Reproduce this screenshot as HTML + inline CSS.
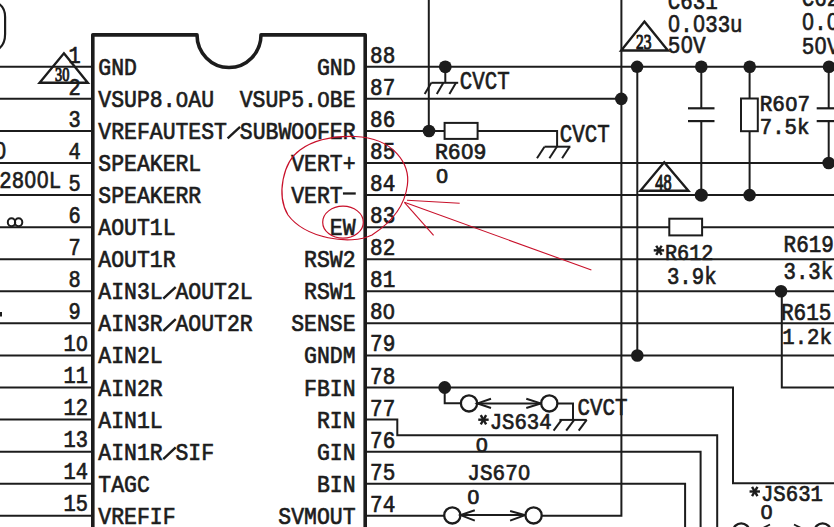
<!DOCTYPE html>
<html><head><meta charset="utf-8"><style>
html,body{margin:0;padding:0;background:#fff;width:834px;height:527px;overflow:hidden}
svg{display:block}

</style></head><body>
<svg width="834" height="527" viewBox="0 0 834 527">
<rect width="834" height="527" fill="#fff"/>
<path d="M92.8,530 L92.8,34.85 L197,34.85 A32,32.7 0 0 0 261,34.85 L365.2,34.85 L365.2,530" fill="none" stroke="#1c1c1c" stroke-width="3.6" stroke-linejoin="round"/>
<line x1="0.00" y1="66.80" x2="92.80" y2="66.80" stroke="#1c1c1c" stroke-width="2.0"/>
<line x1="0.00" y1="98.87" x2="92.80" y2="98.87" stroke="#1c1c1c" stroke-width="2.0"/>
<line x1="0.00" y1="130.94" x2="92.80" y2="130.94" stroke="#1c1c1c" stroke-width="2.0"/>
<line x1="0.00" y1="163.01" x2="92.80" y2="163.01" stroke="#1c1c1c" stroke-width="2.0"/>
<line x1="0.00" y1="195.08" x2="92.80" y2="195.08" stroke="#1c1c1c" stroke-width="2.0"/>
<line x1="0.00" y1="227.15" x2="92.80" y2="227.15" stroke="#1c1c1c" stroke-width="2.0"/>
<line x1="0.00" y1="259.22" x2="92.80" y2="259.22" stroke="#1c1c1c" stroke-width="2.0"/>
<line x1="0.00" y1="291.29" x2="92.80" y2="291.29" stroke="#1c1c1c" stroke-width="2.0"/>
<line x1="0.00" y1="323.36" x2="92.80" y2="323.36" stroke="#1c1c1c" stroke-width="2.0"/>
<line x1="0.00" y1="355.43" x2="92.80" y2="355.43" stroke="#1c1c1c" stroke-width="2.0"/>
<line x1="0.00" y1="387.50" x2="92.80" y2="387.50" stroke="#1c1c1c" stroke-width="2.0"/>
<line x1="0.00" y1="419.57" x2="92.80" y2="419.57" stroke="#1c1c1c" stroke-width="2.0"/>
<line x1="0.00" y1="451.64" x2="92.80" y2="451.64" stroke="#1c1c1c" stroke-width="2.0"/>
<line x1="0.00" y1="483.71" x2="92.80" y2="483.71" stroke="#1c1c1c" stroke-width="2.0"/>
<line x1="0.00" y1="515.78" x2="92.80" y2="515.78" stroke="#1c1c1c" stroke-width="2.0"/>
<text transform="translate(98.31,74.80) scale(0.8848,1)" font-family="Liberation Mono" font-size="24.24" font-weight="normal" fill="#1c1c1c" stroke="#1c1c1c" stroke-width="0.7" xml:space="preserve">GND</text>
<text transform="translate(98.31,106.87) scale(0.8848,1)" font-family="Liberation Mono" font-size="24.24" font-weight="normal" fill="#1c1c1c" stroke="#1c1c1c" stroke-width="0.7" xml:space="preserve">VSUP8. AU</text>
<text transform="translate(181.97,106.87) scale(0.9518,1)" font-family="Liberation Sans" font-size="22.54" text-anchor="middle" fill="#1c1c1c" stroke="#1c1c1c" stroke-width="0.7">0</text>
<text transform="translate(98.31,138.94) scale(0.8848,1)" font-family="Liberation Mono" font-size="24.24" font-weight="normal" fill="#1c1c1c" stroke="#1c1c1c" stroke-width="0.7" xml:space="preserve">VREFAUTEST SUBWOOFER</text>
<line x1="227.61" y1="138.34" x2="240.08" y2="126.78" stroke="#1c1c1c" stroke-width="2.4"/>
<text transform="translate(98.31,171.01) scale(0.8848,1)" font-family="Liberation Mono" font-size="24.24" font-weight="normal" fill="#1c1c1c" stroke="#1c1c1c" stroke-width="0.7" xml:space="preserve">SPEAKERL</text>
<text transform="translate(98.31,203.08) scale(0.8848,1)" font-family="Liberation Mono" font-size="24.24" font-weight="normal" fill="#1c1c1c" stroke="#1c1c1c" stroke-width="0.7" xml:space="preserve">SPEAKERR</text>
<text transform="translate(98.31,235.15) scale(0.8848,1)" font-family="Liberation Mono" font-size="24.24" font-weight="normal" fill="#1c1c1c" stroke="#1c1c1c" stroke-width="0.7" xml:space="preserve">AOUT1L</text>
<text transform="translate(98.31,267.22) scale(0.8848,1)" font-family="Liberation Mono" font-size="24.24" font-weight="normal" fill="#1c1c1c" stroke="#1c1c1c" stroke-width="0.7" xml:space="preserve">AOUT1R</text>
<text transform="translate(98.31,299.29) scale(0.8848,1)" font-family="Liberation Mono" font-size="24.24" font-weight="normal" fill="#1c1c1c" stroke="#1c1c1c" stroke-width="0.7" xml:space="preserve">AIN3L AOUT2L</text>
<line x1="163.26" y1="298.69" x2="175.73" y2="287.13" stroke="#1c1c1c" stroke-width="2.4"/>
<text transform="translate(98.31,331.36) scale(0.8848,1)" font-family="Liberation Mono" font-size="24.24" font-weight="normal" fill="#1c1c1c" stroke="#1c1c1c" stroke-width="0.7" xml:space="preserve">AIN3R AOUT2R</text>
<line x1="163.26" y1="330.76" x2="175.73" y2="319.20" stroke="#1c1c1c" stroke-width="2.4"/>
<text transform="translate(98.31,363.43) scale(0.8848,1)" font-family="Liberation Mono" font-size="24.24" font-weight="normal" fill="#1c1c1c" stroke="#1c1c1c" stroke-width="0.7" xml:space="preserve">AIN2L</text>
<text transform="translate(98.31,395.50) scale(0.8848,1)" font-family="Liberation Mono" font-size="24.24" font-weight="normal" fill="#1c1c1c" stroke="#1c1c1c" stroke-width="0.7" xml:space="preserve">AIN2R</text>
<text transform="translate(98.31,427.57) scale(0.8848,1)" font-family="Liberation Mono" font-size="24.24" font-weight="normal" fill="#1c1c1c" stroke="#1c1c1c" stroke-width="0.7" xml:space="preserve">AIN1L</text>
<text transform="translate(98.31,459.64) scale(0.8848,1)" font-family="Liberation Mono" font-size="24.24" font-weight="normal" fill="#1c1c1c" stroke="#1c1c1c" stroke-width="0.7" xml:space="preserve">AIN1R SIF</text>
<line x1="163.26" y1="459.04" x2="175.73" y2="447.48" stroke="#1c1c1c" stroke-width="2.4"/>
<text transform="translate(98.31,491.71) scale(0.8848,1)" font-family="Liberation Mono" font-size="24.24" font-weight="normal" fill="#1c1c1c" stroke="#1c1c1c" stroke-width="0.7" xml:space="preserve">TAGC</text>
<text transform="translate(98.31,523.78) scale(0.8848,1)" font-family="Liberation Mono" font-size="24.24" font-weight="normal" fill="#1c1c1c" stroke="#1c1c1c" stroke-width="0.7" xml:space="preserve">VREFIF</text>
<text transform="translate(316.98,74.80) scale(0.8848,1)" font-family="Liberation Mono" font-size="24.24" font-weight="normal" fill="#1c1c1c" stroke="#1c1c1c" stroke-width="0.7" xml:space="preserve">GND</text>
<text transform="translate(239.76,106.87) scale(0.8848,1)" font-family="Liberation Mono" font-size="24.24" font-weight="normal" fill="#1c1c1c" stroke="#1c1c1c" stroke-width="0.7" xml:space="preserve">VSUP5. BE</text>
<text transform="translate(323.41,106.87) scale(0.9518,1)" font-family="Liberation Sans" font-size="22.54" text-anchor="middle" fill="#1c1c1c" stroke="#1c1c1c" stroke-width="0.7">0</text>
<text transform="translate(291.24,171.01) scale(0.8848,1)" font-family="Liberation Mono" font-size="24.24" font-weight="normal" fill="#1c1c1c" stroke="#1c1c1c" stroke-width="0.7" xml:space="preserve">VERT+</text>
<text transform="translate(291.24,203.08) scale(0.8848,1)" font-family="Liberation Mono" font-size="24.24" font-weight="normal" fill="#1c1c1c" stroke="#1c1c1c" stroke-width="0.7" xml:space="preserve">VERT </text>
<line x1="342.95" y1="193.48" x2="355.75" y2="193.48" stroke="#1c1c1c" stroke-width="2.3"/>
<text transform="translate(329.85,235.15) scale(0.8848,1)" font-family="Liberation Mono" font-size="24.24" font-weight="normal" fill="#1c1c1c" stroke="#1c1c1c" stroke-width="0.7" xml:space="preserve">EW</text>
<text transform="translate(304.11,267.22) scale(0.8848,1)" font-family="Liberation Mono" font-size="24.24" font-weight="normal" fill="#1c1c1c" stroke="#1c1c1c" stroke-width="0.7" xml:space="preserve">RSW2</text>
<text transform="translate(304.11,299.29) scale(0.8848,1)" font-family="Liberation Mono" font-size="24.24" font-weight="normal" fill="#1c1c1c" stroke="#1c1c1c" stroke-width="0.7" xml:space="preserve">RSW1</text>
<text transform="translate(291.24,331.36) scale(0.8848,1)" font-family="Liberation Mono" font-size="24.24" font-weight="normal" fill="#1c1c1c" stroke="#1c1c1c" stroke-width="0.7" xml:space="preserve">SENSE</text>
<text transform="translate(304.11,363.43) scale(0.8848,1)" font-family="Liberation Mono" font-size="24.24" font-weight="normal" fill="#1c1c1c" stroke="#1c1c1c" stroke-width="0.7" xml:space="preserve">GNDM</text>
<text transform="translate(304.11,395.50) scale(0.8848,1)" font-family="Liberation Mono" font-size="24.24" font-weight="normal" fill="#1c1c1c" stroke="#1c1c1c" stroke-width="0.7" xml:space="preserve">FBIN</text>
<text transform="translate(316.98,427.57) scale(0.8848,1)" font-family="Liberation Mono" font-size="24.24" font-weight="normal" fill="#1c1c1c" stroke="#1c1c1c" stroke-width="0.7" xml:space="preserve">RIN</text>
<text transform="translate(316.98,459.64) scale(0.8848,1)" font-family="Liberation Mono" font-size="24.24" font-weight="normal" fill="#1c1c1c" stroke="#1c1c1c" stroke-width="0.7" xml:space="preserve">GIN</text>
<text transform="translate(316.98,491.71) scale(0.8848,1)" font-family="Liberation Mono" font-size="24.24" font-weight="normal" fill="#1c1c1c" stroke="#1c1c1c" stroke-width="0.7" xml:space="preserve">BIN</text>
<text transform="translate(278.37,523.78) scale(0.8848,1)" font-family="Liberation Mono" font-size="24.24" font-weight="normal" fill="#1c1c1c" stroke="#1c1c1c" stroke-width="0.7" xml:space="preserve">SVMOUT</text>
<text transform="translate(68.38,62.50) scale(0.8642,1)" font-family="Liberation Mono" font-size="23.53" font-weight="normal" fill="#1c1c1c" stroke="#1c1c1c" stroke-width="0.7" xml:space="preserve">1</text>
<text transform="translate(68.38,94.57) scale(0.8642,1)" font-family="Liberation Mono" font-size="23.53" font-weight="normal" fill="#1c1c1c" stroke="#1c1c1c" stroke-width="0.7" xml:space="preserve">2</text>
<text transform="translate(68.38,126.64) scale(0.8642,1)" font-family="Liberation Mono" font-size="23.53" font-weight="normal" fill="#1c1c1c" stroke="#1c1c1c" stroke-width="0.7" xml:space="preserve">3</text>
<text transform="translate(68.38,158.71) scale(0.8642,1)" font-family="Liberation Mono" font-size="23.53" font-weight="normal" fill="#1c1c1c" stroke="#1c1c1c" stroke-width="0.7" xml:space="preserve">4</text>
<text transform="translate(68.38,190.78) scale(0.8642,1)" font-family="Liberation Mono" font-size="23.53" font-weight="normal" fill="#1c1c1c" stroke="#1c1c1c" stroke-width="0.7" xml:space="preserve">5</text>
<text transform="translate(68.38,222.85) scale(0.8642,1)" font-family="Liberation Mono" font-size="23.53" font-weight="normal" fill="#1c1c1c" stroke="#1c1c1c" stroke-width="0.7" xml:space="preserve">6</text>
<text transform="translate(68.38,254.92) scale(0.8642,1)" font-family="Liberation Mono" font-size="23.53" font-weight="normal" fill="#1c1c1c" stroke="#1c1c1c" stroke-width="0.7" xml:space="preserve">7</text>
<text transform="translate(68.38,286.99) scale(0.8642,1)" font-family="Liberation Mono" font-size="23.53" font-weight="normal" fill="#1c1c1c" stroke="#1c1c1c" stroke-width="0.7" xml:space="preserve">8</text>
<text transform="translate(68.38,319.06) scale(0.8642,1)" font-family="Liberation Mono" font-size="23.53" font-weight="normal" fill="#1c1c1c" stroke="#1c1c1c" stroke-width="0.7" xml:space="preserve">9</text>
<text transform="translate(63.48,351.13) scale(0.8642,1)" font-family="Liberation Mono" font-size="23.53" font-weight="normal" fill="#1c1c1c" stroke="#1c1c1c" stroke-width="0.7" xml:space="preserve">1 </text>
<text transform="translate(81.78,351.13) scale(0.9023,1)" font-family="Liberation Sans" font-size="22.54" text-anchor="middle" fill="#1c1c1c" stroke="#1c1c1c" stroke-width="0.7">0</text>
<text transform="translate(63.48,383.20) scale(0.8642,1)" font-family="Liberation Mono" font-size="23.53" font-weight="normal" fill="#1c1c1c" stroke="#1c1c1c" stroke-width="0.7" xml:space="preserve">11</text>
<text transform="translate(63.48,415.27) scale(0.8642,1)" font-family="Liberation Mono" font-size="23.53" font-weight="normal" fill="#1c1c1c" stroke="#1c1c1c" stroke-width="0.7" xml:space="preserve">12</text>
<text transform="translate(63.48,447.34) scale(0.8642,1)" font-family="Liberation Mono" font-size="23.53" font-weight="normal" fill="#1c1c1c" stroke="#1c1c1c" stroke-width="0.7" xml:space="preserve">13</text>
<text transform="translate(63.48,479.41) scale(0.8642,1)" font-family="Liberation Mono" font-size="23.53" font-weight="normal" fill="#1c1c1c" stroke="#1c1c1c" stroke-width="0.7" xml:space="preserve">14</text>
<text transform="translate(63.48,511.48) scale(0.8642,1)" font-family="Liberation Mono" font-size="23.53" font-weight="normal" fill="#1c1c1c" stroke="#1c1c1c" stroke-width="0.7" xml:space="preserve">15</text>
<text transform="translate(370.04,62.80) scale(0.8761,1)" font-family="Liberation Mono" font-size="23.97" font-weight="normal" fill="#1c1c1c" stroke="#1c1c1c" stroke-width="0.7" xml:space="preserve">88</text>
<text transform="translate(370.04,94.87) scale(0.8761,1)" font-family="Liberation Mono" font-size="23.97" font-weight="normal" fill="#1c1c1c" stroke="#1c1c1c" stroke-width="0.7" xml:space="preserve">87</text>
<text transform="translate(370.04,126.94) scale(0.8761,1)" font-family="Liberation Mono" font-size="23.97" font-weight="normal" fill="#1c1c1c" stroke="#1c1c1c" stroke-width="0.7" xml:space="preserve">86</text>
<text transform="translate(370.04,159.01) scale(0.8761,1)" font-family="Liberation Mono" font-size="23.97" font-weight="normal" fill="#1c1c1c" stroke="#1c1c1c" stroke-width="0.7" xml:space="preserve">85</text>
<text transform="translate(370.04,191.08) scale(0.8761,1)" font-family="Liberation Mono" font-size="23.97" font-weight="normal" fill="#1c1c1c" stroke="#1c1c1c" stroke-width="0.7" xml:space="preserve">84</text>
<text transform="translate(370.04,223.15) scale(0.8761,1)" font-family="Liberation Mono" font-size="23.97" font-weight="normal" fill="#1c1c1c" stroke="#1c1c1c" stroke-width="0.7" xml:space="preserve">83</text>
<text transform="translate(370.04,255.22) scale(0.8761,1)" font-family="Liberation Mono" font-size="23.97" font-weight="normal" fill="#1c1c1c" stroke="#1c1c1c" stroke-width="0.7" xml:space="preserve">82</text>
<text transform="translate(370.04,287.29) scale(0.8761,1)" font-family="Liberation Mono" font-size="23.97" font-weight="normal" fill="#1c1c1c" stroke="#1c1c1c" stroke-width="0.7" xml:space="preserve">81</text>
<text transform="translate(370.04,319.36) scale(0.8761,1)" font-family="Liberation Mono" font-size="23.97" font-weight="normal" fill="#1c1c1c" stroke="#1c1c1c" stroke-width="0.7" xml:space="preserve">8 </text>
<text transform="translate(388.94,319.36) scale(0.9147,1)" font-family="Liberation Sans" font-size="22.96" text-anchor="middle" fill="#1c1c1c" stroke="#1c1c1c" stroke-width="0.7">0</text>
<text transform="translate(370.04,351.43) scale(0.8761,1)" font-family="Liberation Mono" font-size="23.97" font-weight="normal" fill="#1c1c1c" stroke="#1c1c1c" stroke-width="0.7" xml:space="preserve">79</text>
<text transform="translate(370.04,383.50) scale(0.8761,1)" font-family="Liberation Mono" font-size="23.97" font-weight="normal" fill="#1c1c1c" stroke="#1c1c1c" stroke-width="0.7" xml:space="preserve">78</text>
<text transform="translate(370.04,415.57) scale(0.8761,1)" font-family="Liberation Mono" font-size="23.97" font-weight="normal" fill="#1c1c1c" stroke="#1c1c1c" stroke-width="0.7" xml:space="preserve">77</text>
<text transform="translate(370.04,447.64) scale(0.8761,1)" font-family="Liberation Mono" font-size="23.97" font-weight="normal" fill="#1c1c1c" stroke="#1c1c1c" stroke-width="0.7" xml:space="preserve">76</text>
<text transform="translate(370.04,479.71) scale(0.8761,1)" font-family="Liberation Mono" font-size="23.97" font-weight="normal" fill="#1c1c1c" stroke="#1c1c1c" stroke-width="0.7" xml:space="preserve">75</text>
<text transform="translate(370.04,511.78) scale(0.8761,1)" font-family="Liberation Mono" font-size="23.97" font-weight="normal" fill="#1c1c1c" stroke="#1c1c1c" stroke-width="0.7" xml:space="preserve">74</text>
<line x1="365.20" y1="66.80" x2="834.00" y2="66.80" stroke="#1c1c1c" stroke-width="2.0"/>
<line x1="365.20" y1="98.87" x2="621.30" y2="98.87" stroke="#1c1c1c" stroke-width="2.0"/>
<line x1="365.20" y1="130.94" x2="444.60" y2="130.94" stroke="#1c1c1c" stroke-width="2.0"/>
<polyline points="477.60,130.94 557.10,130.94 557.10,146.70" fill="none" stroke="#1c1c1c" stroke-width="2.0" stroke-linejoin="miter"/>
<line x1="365.20" y1="163.01" x2="828.70" y2="163.01" stroke="#1c1c1c" stroke-width="2.0"/>
<line x1="365.20" y1="195.08" x2="834.00" y2="195.08" stroke="#1c1c1c" stroke-width="2.0"/>
<line x1="365.20" y1="227.15" x2="669.30" y2="227.15" stroke="#1c1c1c" stroke-width="2.0"/>
<line x1="702.10" y1="227.15" x2="834.00" y2="227.15" stroke="#1c1c1c" stroke-width="2.0"/>
<line x1="365.20" y1="259.22" x2="834.00" y2="259.22" stroke="#1c1c1c" stroke-width="2.0"/>
<line x1="365.20" y1="291.29" x2="834.00" y2="291.29" stroke="#1c1c1c" stroke-width="2.0"/>
<line x1="365.20" y1="323.36" x2="834.00" y2="323.36" stroke="#1c1c1c" stroke-width="2.0"/>
<line x1="365.20" y1="355.43" x2="834.00" y2="355.43" stroke="#1c1c1c" stroke-width="2.0"/>
<polyline points="365.20,419.57 397.30,419.57 397.30,435.30 717.20,435.30 717.20,530.00" fill="none" stroke="#1c1c1c" stroke-width="2.0" stroke-linejoin="miter"/>
<polyline points="365.20,451.64 700.60,451.64 700.60,530.00" fill="none" stroke="#1c1c1c" stroke-width="2.0" stroke-linejoin="miter"/>
<polyline points="365.20,483.71 685.10,483.71 685.10,530.00" fill="none" stroke="#1c1c1c" stroke-width="2.0" stroke-linejoin="miter"/>
<line x1="365.20" y1="515.78" x2="444.10" y2="515.78" stroke="#1c1c1c" stroke-width="2.0"/>
<polyline points="542.00,515.78 621.40,515.78 621.40,-5.00" fill="none" stroke="#1c1c1c" stroke-width="2.0" stroke-linejoin="miter"/>
<line x1="428.80" y1="-5.00" x2="428.80" y2="130.94" stroke="#1c1c1c" stroke-width="2.0"/>
<circle cx="429.00" cy="130.94" r="6.3" fill="#1c1c1c"/>
<circle cx="445.30" cy="66.80" r="6.4" fill="#1c1c1c"/>
<line x1="445.30" y1="66.80" x2="445.30" y2="82.80" stroke="#1c1c1c" stroke-width="2.0"/>
<line x1="431.30" y1="82.80" x2="458.20" y2="82.80" stroke="#1c1c1c" stroke-width="2.0"/>
<line x1="431.30" y1="82.80" x2="424.70" y2="93.90" stroke="#1c1c1c" stroke-width="2.0"/>
<line x1="443.40" y1="82.80" x2="436.80" y2="93.90" stroke="#1c1c1c" stroke-width="2.0"/>
<line x1="456.00" y1="82.80" x2="449.40" y2="93.90" stroke="#1c1c1c" stroke-width="2.0"/>
<text transform="translate(459.75,89.10) scale(0.8185,1)" font-family="Liberation Mono" font-size="25.45" font-weight="normal" fill="#1c1c1c" stroke="#1c1c1c" stroke-width="0.7" xml:space="preserve">CVCT</text>
<rect x="444.6" y="122.9" width="33" height="16" fill="#fff" stroke="#1c1c1c" stroke-width="2"/>
<text transform="translate(434.91,159.40) scale(0.9618,1)" font-family="Liberation Mono" font-size="22.35" font-weight="normal" fill="#1c1c1c" stroke="#1c1c1c" stroke-width="0.7" xml:space="preserve">R6 9</text>
<text transform="translate(467.16,159.40) scale(1.0043,1)" font-family="Liberation Sans" font-size="21.41" text-anchor="middle" fill="#1c1c1c" stroke="#1c1c1c" stroke-width="0.7">0</text>
<text transform="translate(435.74,183.00) scale(0.9848,1)" font-family="Liberation Mono" font-size="21.32" font-weight="normal" fill="#1c1c1c" stroke="#1c1c1c" stroke-width="0.7" xml:space="preserve"> </text>
<text transform="translate(442.04,183.00) scale(1.0283,1)" font-family="Liberation Sans" font-size="20.42" text-anchor="middle" fill="#1c1c1c" stroke="#1c1c1c" stroke-width="0.7">0</text>
<line x1="544.50" y1="146.70" x2="570.40" y2="146.70" stroke="#1c1c1c" stroke-width="2.0"/>
<line x1="544.50" y1="146.70" x2="537.00" y2="158.20" stroke="#1c1c1c" stroke-width="2.0"/>
<line x1="556.90" y1="146.70" x2="549.40" y2="158.20" stroke="#1c1c1c" stroke-width="2.0"/>
<line x1="569.60" y1="146.70" x2="562.10" y2="158.20" stroke="#1c1c1c" stroke-width="2.0"/>
<text transform="translate(559.75,141.70) scale(0.8283,1)" font-family="Liberation Mono" font-size="25.15" font-weight="normal" fill="#1c1c1c" stroke="#1c1c1c" stroke-width="0.7" xml:space="preserve">CVCT</text>
<circle cx="621.30" cy="98.87" r="6.3" fill="#1c1c1c"/>
<circle cx="637.10" cy="66.80" r="6.2" fill="#1c1c1c"/>
<line x1="637.30" y1="66.80" x2="637.30" y2="355.43" stroke="#1c1c1c" stroke-width="2.0"/>
<circle cx="637.30" cy="355.43" r="6.3" fill="#1c1c1c"/>
<polygon points="63.90,53.30 87.80,82.80 39.60,82.80" fill="none" stroke="#1c1c1c" stroke-width="2.4" stroke-linejoin="miter"/>
<polygon points="644.40,21.60 667.90,50.50 621.20,50.50" fill="none" stroke="#1c1c1c" stroke-width="2.4" stroke-linejoin="miter"/>
<polygon points="664.20,162.30 688.40,190.80 640.40,190.80" fill="none" stroke="#1c1c1c" stroke-width="2.4" stroke-linejoin="miter"/>
<circle cx="701.30" cy="66.80" r="6.3" fill="#1c1c1c"/>
<line x1="701.30" y1="66.80" x2="701.30" y2="108.30" stroke="#1c1c1c" stroke-width="2.0"/>
<line x1="688.00" y1="108.30" x2="714.50" y2="108.30" stroke="#1c1c1c" stroke-width="2.2"/>
<line x1="688.00" y1="121.10" x2="714.50" y2="121.10" stroke="#1c1c1c" stroke-width="2.2"/>
<line x1="701.30" y1="121.10" x2="701.30" y2="195.08" stroke="#1c1c1c" stroke-width="2.0"/>
<circle cx="701.30" cy="195.08" r="6.6" fill="#1c1c1c"/>
<circle cx="749.70" cy="66.80" r="6.3" fill="#1c1c1c"/>
<line x1="749.60" y1="66.80" x2="749.60" y2="98.50" stroke="#1c1c1c" stroke-width="2.0"/>
<rect x="741" y="98.5" width="16.8" height="32.7" fill="#fff" stroke="#1c1c1c" stroke-width="2"/>
<line x1="749.60" y1="131.20" x2="749.60" y2="195.08" stroke="#1c1c1c" stroke-width="2.0"/>
<circle cx="749.60" cy="195.08" r="6.3" fill="#1c1c1c"/>
<circle cx="829.00" cy="66.80" r="6.3" fill="#1c1c1c"/>
<line x1="828.70" y1="66.80" x2="828.70" y2="108.30" stroke="#1c1c1c" stroke-width="2.0"/>
<line x1="816.70" y1="108.30" x2="845.00" y2="108.30" stroke="#1c1c1c" stroke-width="2.2"/>
<line x1="816.70" y1="121.10" x2="845.00" y2="121.10" stroke="#1c1c1c" stroke-width="2.2"/>
<line x1="828.70" y1="121.10" x2="828.70" y2="163.01" stroke="#1c1c1c" stroke-width="2.0"/>
<circle cx="828.70" cy="163.01" r="6.3" fill="#1c1c1c"/>
<rect x="669.3" y="218.7" width="32.8" height="16.7" fill="#fff" stroke="#1c1c1c" stroke-width="2"/>
<circle cx="781.00" cy="291.29" r="6.3" fill="#1c1c1c"/>
<polyline points="781.80,291.29 781.80,387.40 839.00,387.40" fill="none" stroke="#1c1c1c" stroke-width="2.0" stroke-linejoin="miter"/>
<polyline points="365.20,387.50 733.00,387.50 733.00,483.20 839.00,483.20" fill="none" stroke="#1c1c1c" stroke-width="2.0" stroke-linejoin="miter"/>
<circle cx="444.70" cy="387.50" r="6.4" fill="#1c1c1c"/>
<polyline points="444.70,387.50 444.70,403.30 460.80,403.30" fill="none" stroke="#1c1c1c" stroke-width="2.0" stroke-linejoin="miter"/>
<circle cx="469.00" cy="403.40" r="8.1" fill="#fff" stroke="#1c1c1c" stroke-width="2.3"/>
<line x1="477.20" y1="403.40" x2="541.20" y2="403.40" stroke="#1c1c1c" stroke-width="2.0"/>
<polyline points="491.00,398.70 477.50,403.40 491.00,408.00" fill="none" stroke="#1c1c1c" stroke-width="2.0" stroke-linejoin="miter"/>
<polyline points="526.30,398.70 540.80,403.40 526.30,408.00" fill="none" stroke="#1c1c1c" stroke-width="2.0" stroke-linejoin="miter"/>
<circle cx="549.30" cy="403.40" r="8.1" fill="#fff" stroke="#1c1c1c" stroke-width="2.3"/>
<polyline points="557.40,403.40 573.00,403.40 573.00,419.90" fill="none" stroke="#1c1c1c" stroke-width="2.0" stroke-linejoin="miter"/>
<line x1="559.40" y1="419.90" x2="586.70" y2="419.90" stroke="#1c1c1c" stroke-width="2.0"/>
<line x1="561.60" y1="419.90" x2="553.60" y2="430.60" stroke="#1c1c1c" stroke-width="2.0"/>
<line x1="574.20" y1="419.90" x2="566.20" y2="430.60" stroke="#1c1c1c" stroke-width="2.0"/>
<line x1="586.70" y1="419.90" x2="578.70" y2="430.60" stroke="#1c1c1c" stroke-width="2.0"/>
<text transform="translate(577.45,415.30) scale(0.8594,1)" font-family="Liberation Mono" font-size="24.24" font-weight="normal" fill="#1c1c1c" stroke="#1c1c1c" stroke-width="0.7" xml:space="preserve">CVCT</text>
<text transform="translate(477.26,429.00) scale(0.9067,1)" font-family="Liberation Mono" font-size="22.79" font-weight="normal" fill="#1c1c1c" stroke="#1c1c1c" stroke-width="0.7" xml:space="preserve"> JS634</text>
<g stroke="#1c1c1c" stroke-width="2.4"><line x1="478.26" y1="419.70" x2="488.66" y2="419.70"/><line x1="480.76" y1="415.10" x2="486.16" y2="424.30"/><line x1="486.16" y1="415.10" x2="480.76" y2="424.30"/></g>
<text transform="translate(475.54,451.60) scale(0.9848,1)" font-family="Liberation Mono" font-size="21.32" font-weight="normal" fill="#1c1c1c" stroke="#1c1c1c" stroke-width="0.7" xml:space="preserve"> </text>
<text transform="translate(481.84,451.60) scale(1.0283,1)" font-family="Liberation Sans" font-size="20.42" text-anchor="middle" fill="#1c1c1c" stroke="#1c1c1c" stroke-width="0.7">0</text>
<text transform="translate(467.34,480.40) scale(0.9154,1)" font-family="Liberation Mono" font-size="22.94" font-weight="normal" fill="#1c1c1c" stroke="#1c1c1c" stroke-width="0.7" xml:space="preserve">JS67 </text>
<text transform="translate(524.04,480.40) scale(0.9558,1)" font-family="Liberation Sans" font-size="21.97" text-anchor="middle" fill="#1c1c1c" stroke="#1c1c1c" stroke-width="0.7">0</text>
<text transform="translate(467.14,504.30) scale(1.0348,1)" font-family="Liberation Mono" font-size="20.29" font-weight="normal" fill="#1c1c1c" stroke="#1c1c1c" stroke-width="0.7" xml:space="preserve"> </text>
<text transform="translate(473.44,504.30) scale(1.0804,1)" font-family="Liberation Sans" font-size="19.44" text-anchor="middle" fill="#1c1c1c" stroke="#1c1c1c" stroke-width="0.7">0</text>
<circle cx="452.30" cy="515.40" r="8.1" fill="#fff" stroke="#1c1c1c" stroke-width="2.3"/>
<line x1="460.40" y1="515.10" x2="525.20" y2="515.10" stroke="#1c1c1c" stroke-width="2.0"/>
<polyline points="474.80,510.30 460.60,515.10 474.80,520.60" fill="none" stroke="#1c1c1c" stroke-width="2.0" stroke-linejoin="miter"/>
<polyline points="510.10,511.00 525.00,515.10 510.10,520.60" fill="none" stroke="#1c1c1c" stroke-width="2.0" stroke-linejoin="miter"/>
<circle cx="533.60" cy="515.40" r="8.1" fill="#fff" stroke="#1c1c1c" stroke-width="2.3"/>
<text transform="translate(748.56,500.50) scale(0.9369,1)" font-family="Liberation Mono" font-size="22.06" font-weight="normal" fill="#1c1c1c" stroke="#1c1c1c" stroke-width="0.7" xml:space="preserve"> JS631</text>
<g stroke="#1c1c1c" stroke-width="2.4"><line x1="749.56" y1="491.50" x2="759.96" y2="491.50"/><line x1="752.06" y1="486.90" x2="757.46" y2="496.10"/><line x1="757.46" y1="486.90" x2="752.06" y2="496.10"/></g>
<text transform="translate(760.34,519.40) scale(0.9848,1)" font-family="Liberation Mono" font-size="21.32" font-weight="normal" fill="#1c1c1c" stroke="#1c1c1c" stroke-width="0.7" xml:space="preserve"> </text>
<text transform="translate(766.64,519.40) scale(1.0283,1)" font-family="Liberation Sans" font-size="20.42" text-anchor="middle" fill="#1c1c1c" stroke="#1c1c1c" stroke-width="0.7">0</text>
<circle cx="741.20" cy="531.40" r="8.1" fill="#fff" stroke="#1c1c1c" stroke-width="2.3"/>
<circle cx="822.60" cy="531.40" r="8.1" fill="#fff" stroke="#1c1c1c" stroke-width="2.3"/>
<polyline points="770.00,524.50 762.00,528.50" fill="none" stroke="#1c1c1c" stroke-width="1.8" stroke-linejoin="miter"/>
<polyline points="794.00,524.50 802.00,528.50" fill="none" stroke="#1c1c1c" stroke-width="1.8" stroke-linejoin="miter"/>
<text transform="translate(667.85,8.50) scale(0.8691,1)" font-family="Liberation Mono" font-size="23.97" font-weight="normal" fill="#1c1c1c" stroke="#1c1c1c" stroke-width="0.7" xml:space="preserve">C631</text>
<text transform="translate(667.86,31.90) scale(0.8552,1)" font-family="Liberation Mono" font-size="24.26" font-weight="normal" fill="#1c1c1c" stroke="#1c1c1c" stroke-width="0.7" xml:space="preserve"> . 33u</text>
<text transform="translate(674.08,31.90) scale(0.8929,1)" font-family="Liberation Sans" font-size="23.24" text-anchor="middle" fill="#1c1c1c" stroke="#1c1c1c" stroke-width="0.7">0</text>
<text transform="translate(698.98,31.90) scale(0.8929,1)" font-family="Liberation Sans" font-size="23.24" text-anchor="middle" fill="#1c1c1c" stroke="#1c1c1c" stroke-width="0.7">0</text>
<text transform="translate(667.84,53.00) scale(0.8602,1)" font-family="Liberation Mono" font-size="24.41" font-weight="normal" fill="#1c1c1c" stroke="#1c1c1c" stroke-width="0.7" xml:space="preserve">5 V</text>
<text transform="translate(686.74,53.00) scale(0.8982,1)" font-family="Liberation Sans" font-size="23.38" text-anchor="middle" fill="#1c1c1c" stroke="#1c1c1c" stroke-width="0.7">0</text>
<text transform="translate(801.75,6.30) scale(0.8691,1)" font-family="Liberation Mono" font-size="23.97" font-weight="normal" fill="#1c1c1c" stroke="#1c1c1c" stroke-width="0.7" xml:space="preserve">C62</text>
<text transform="translate(801.75,29.60) scale(0.8552,1)" font-family="Liberation Mono" font-size="24.26" font-weight="normal" fill="#1c1c1c" stroke="#1c1c1c" stroke-width="0.7" xml:space="preserve"> . </text>
<text transform="translate(807.98,29.60) scale(0.8929,1)" font-family="Liberation Sans" font-size="23.24" text-anchor="middle" fill="#1c1c1c" stroke="#1c1c1c" stroke-width="0.7">0</text>
<text transform="translate(832.88,29.60) scale(0.8929,1)" font-family="Liberation Sans" font-size="23.24" text-anchor="middle" fill="#1c1c1c" stroke="#1c1c1c" stroke-width="0.7">0</text>
<text transform="translate(801.74,53.50) scale(0.8602,1)" font-family="Liberation Mono" font-size="24.41" font-weight="normal" fill="#1c1c1c" stroke="#1c1c1c" stroke-width="0.7" xml:space="preserve">5 V</text>
<text transform="translate(820.64,53.50) scale(0.8982,1)" font-family="Liberation Sans" font-size="23.38" text-anchor="middle" fill="#1c1c1c" stroke="#1c1c1c" stroke-width="0.7">0</text>
<text transform="translate(759.74,110.50) scale(0.9714,1)" font-family="Liberation Mono" font-size="21.62" font-weight="normal" fill="#1c1c1c" stroke="#1c1c1c" stroke-width="0.7" xml:space="preserve">R6 7</text>
<text transform="translate(791.24,110.50) scale(1.0143,1)" font-family="Liberation Sans" font-size="20.70" text-anchor="middle" fill="#1c1c1c" stroke="#1c1c1c" stroke-width="0.7">0</text>
<text transform="translate(759.76,134.30) scale(0.9185,1)" font-family="Liberation Mono" font-size="22.50" font-weight="normal" fill="#1c1c1c" stroke="#1c1c1c" stroke-width="0.7" xml:space="preserve">7.5k</text>
<text transform="translate(652.89,259.60) scale(0.8905,1)" font-family="Liberation Mono" font-size="22.65" font-weight="normal" fill="#1c1c1c" stroke="#1c1c1c" stroke-width="0.7" xml:space="preserve"> R612</text>
<g stroke="#1c1c1c" stroke-width="2.4"><line x1="653.74" y1="250.36" x2="664.14" y2="250.36"/><line x1="656.24" y1="245.76" x2="661.64" y2="254.96"/><line x1="661.64" y1="245.76" x2="656.24" y2="254.96"/></g>
<text transform="translate(666.96,283.90) scale(0.8466,1)" font-family="Liberation Mono" font-size="24.41" font-weight="normal" fill="#1c1c1c" stroke="#1c1c1c" stroke-width="0.7" xml:space="preserve">3.9k</text>
<text transform="translate(783.54,251.90) scale(0.8602,1)" font-family="Liberation Mono" font-size="24.41" font-weight="normal" fill="#1c1c1c" stroke="#1c1c1c" stroke-width="0.7" xml:space="preserve">R619</text>
<text transform="translate(783.56,278.80) scale(0.8466,1)" font-family="Liberation Mono" font-size="24.41" font-weight="normal" fill="#1c1c1c" stroke="#1c1c1c" stroke-width="0.7" xml:space="preserve">3.3k</text>
<text transform="translate(780.94,320.30) scale(0.8981,1)" font-family="Liberation Mono" font-size="23.38" font-weight="normal" fill="#1c1c1c" stroke="#1c1c1c" stroke-width="0.7" xml:space="preserve">R615</text>
<text transform="translate(782.26,344.20) scale(0.9126,1)" font-family="Liberation Mono" font-size="22.65" font-weight="normal" fill="#1c1c1c" stroke="#1c1c1c" stroke-width="0.7" xml:space="preserve">1.2k</text>
<text transform="translate(-6.26,158.60) scale(0.8655,1)" font-family="Liberation Mono" font-size="24.26" font-weight="normal" fill="#1c1c1c" stroke="#1c1c1c" stroke-width="0.7" xml:space="preserve"> </text>
<text transform="translate(0.04,158.60) scale(0.9036,1)" font-family="Liberation Sans" font-size="23.24" text-anchor="middle" fill="#1c1c1c" stroke="#1c1c1c" stroke-width="0.7">0</text>
<text transform="translate(-0.74,188.40) scale(0.8466,1)" font-family="Liberation Mono" font-size="24.41" font-weight="normal" fill="#1c1c1c" stroke="#1c1c1c" stroke-width="0.7" xml:space="preserve">28  L</text>
<text transform="translate(30.26,188.40) scale(0.8839,1)" font-family="Liberation Sans" font-size="23.38" text-anchor="middle" fill="#1c1c1c" stroke="#1c1c1c" stroke-width="0.7">0</text>
<text transform="translate(42.66,188.40) scale(0.8839,1)" font-family="Liberation Sans" font-size="23.38" text-anchor="middle" fill="#1c1c1c" stroke="#1c1c1c" stroke-width="0.7">0</text>
<ellipse cx="11.5" cy="222.3" rx="3.7" ry="4.0" fill="none" stroke="#1c1c1c" stroke-width="2"/>
<ellipse cx="18.6" cy="222.3" rx="3.7" ry="4.0" fill="none" stroke="#1c1c1c" stroke-width="2"/>
<rect x="0" y="312" width="2" height="4.5" fill="#1c1c1c"/>
<path d="M-1,3.8 Q5.1,8 5.1,17 L5.1,34 Q5.1,44 -1,48.6" fill="none" stroke="#1c1c1c" stroke-width="2.2"/>
<text transform="translate(54.97,80.80) scale(0.7277,1)" font-family="Liberation Serif" font-size="19.70" font-weight="normal" fill="#1c1c1c" stroke="#1c1c1c" stroke-width="1.1" xml:space="preserve">30</text>
<text transform="translate(635.93,48.60) scale(0.7104,1)" font-family="Liberation Serif" font-size="21.82" font-weight="normal" fill="#1c1c1c" stroke="#1c1c1c" stroke-width="1.1" xml:space="preserve">23</text>
<text transform="translate(655.31,190.40) scale(0.6929,1)" font-family="Liberation Serif" font-size="23.33" font-weight="normal" fill="#1c1c1c" stroke="#1c1c1c" stroke-width="1.1" xml:space="preserve">48</text>
<path d="M355,136.5 C395,138 410,165 407.4,185 C405,205 392,222 372,235 C350,246 305,238 288,215 C276,195 283,162 300,150 C315,139 335,136 355,136.5" fill="none" stroke="#c8102a" stroke-width="1.2"/>
<ellipse cx="343" cy="222.2" rx="20.3" ry="16" fill="none" stroke="#c8102a" stroke-width="1.2"/>
<line x1="407.00" y1="200.20" x2="459.70" y2="203.30" stroke="#c8102a" stroke-width="1.1"/>
<line x1="404.40" y1="202.30" x2="591.40" y2="270.00" stroke="#c8102a" stroke-width="1.1"/>
<line x1="404.40" y1="202.30" x2="433.60" y2="235.40" stroke="#c8102a" stroke-width="1.1"/>
</svg></body></html>
